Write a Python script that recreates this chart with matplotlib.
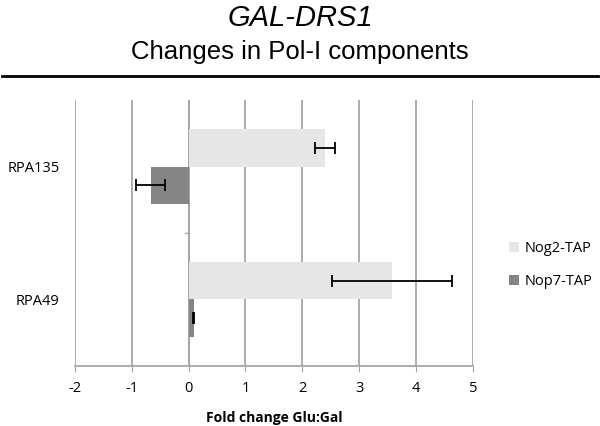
import numpy as np
import matplotlib.pyplot as plt

categories = ["RPA135", "RPA49"]
series = ["Nog2-TAP", "Nop7-TAP"]
nog2 = [2.40, 3.58]
nog2_err = [0.18, 1.05]
nop7 = [-0.67, 0.09]
nop7_err = [0.25, 0.01]
xticks = [-2, -1, 0, 1, 2, 3, 4, 5]

light = "#e6e6e6"
dark = "#858585"
grid_col = "#a6a6a6"

fig = plt.figure(figsize=(6, 4.26), dpi=100)

# titles and rule
fig.text(0.5, 0.958, "GAL-DRS1", ha="center", va="center", style="italic",
         fontsize=21, family="Liberation Sans")
fig.text(0.5, 0.878, "Changes in Pol-I components", ha="center", va="center",
         fontsize=18.5, family="Liberation Sans")
fig.add_artist(plt.Line2D([0.003, 0.997], [0.821, 0.821], color="black", lw=2))

ax = fig.add_axes([0.125, 0.141, 0.663, 0.624])

ypos = np.arange(len(categories))[::-1]   # RPA135 on top
h = 0.28
ax.barh(ypos + h / 2, nog2, height=h, color=light, label=series[0], zorder=2)
ax.barh(ypos - h / 2, nop7, height=h, color=dark, label=series[1], zorder=2)
ax.errorbar(nog2, ypos + h / 2, xerr=nog2_err, fmt="none", ecolor="black",
            elinewidth=1.3, capsize=4, capthick=1.3, zorder=3)
ax.errorbar(nop7, ypos - h / 2, xerr=nop7_err, fmt="none", ecolor="black",
            elinewidth=1.3, capsize=4, capthick=1.3, zorder=3)

ax.set_xlim(xticks[0], xticks[-1])
ax.set_ylim(-0.5, len(categories) - 0.5)
ax.set_xticks(xticks)
ax.set_xticklabels([str(t) for t in xticks], fontsize=10.5, family="Open Sans")
ax.set_yticks(ypos)
ax.set_yticklabels(categories, fontsize=10.5, family="Open Sans")
ax.tick_params(axis="y", length=0, pad=11)
ax.tick_params(axis="x", length=4, color=grid_col, pad=7)

ax.grid(axis="x", color=grid_col, lw=1.3, zorder=0)
ax.axvline(0, color=grid_col, lw=1.3, zorder=1)
# category separator tick on the value-zero axis
for b in ypos[:-1] - 0.5:
    ax.plot([-0.07, 0], [b, b], color=grid_col, lw=1, zorder=1)

for s in ["top", "right", "left"]:
    ax.spines[s].set_visible(False)
ax.spines["bottom"].set_color(grid_col)
ax.spines["bottom"].set_linewidth(1.3)

ax.set_xlabel("Fold change Glu:Gal", fontsize=10, fontweight="bold",
              family="Open Sans", labelpad=11)

ax.legend(loc="center left", bbox_to_anchor=(1.09, 0.38), frameon=False,
          prop={"family": "Open Sans", "size": 10.5}, handlelength=0.7,
          handleheight=0.7, handletextpad=0.4, labelspacing=1.25,
          borderpad=0, borderaxespad=0)

fig.savefig("out.png", dpi=100)
